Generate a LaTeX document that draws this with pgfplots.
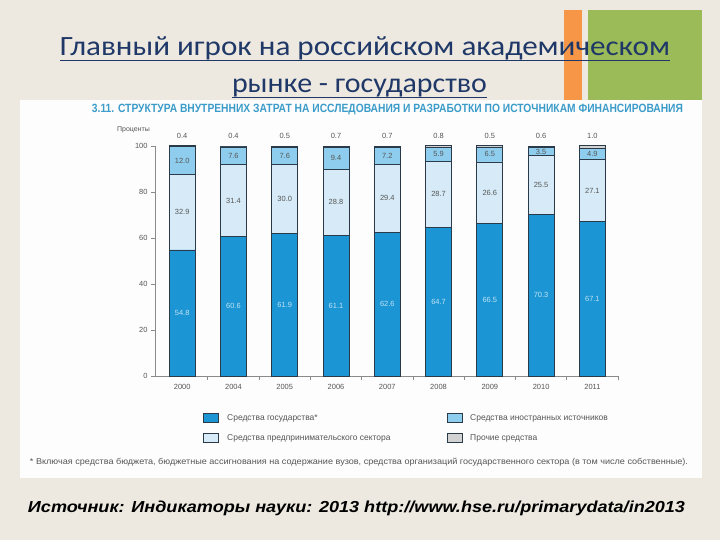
\documentclass[border=0pt]{standalone}
\usepackage{pgfplots}
\pgfplotsset{compat=1.18}
\usepackage{graphicx}
\usepackage{fontspec}
\setmainfont{Liberation Sans}
\newfontfamily\titlefont{Carlito}
\definecolor{bgc}{HTML}{EDE9E0}
\definecolor{panel}{HTML}{FDFDFD}
\definecolor{titleblue}{HTML}{1F3868}
\definecolor{orng}{HTML}{F79646}
\definecolor{grn}{HTML}{9BBB59}
\definecolor{hdr}{HTML}{3C9CC9}
\definecolor{cstate}{HTML}{1B95D3}
\definecolor{cbus}{HTML}{D6EBF7}
\definecolor{cfor}{HTML}{8ECDED}
\definecolor{coth}{HTML}{D2D2D2}
\definecolor{outl}{HTML}{2A3A48}
\definecolor{axgray}{HTML}{8A8A8A}
\definecolor{txtgray}{HTML}{555555}
\definecolor{lbllight}{HTML}{C4E4F5}
\begin{document}
\begin{tikzpicture}
\begin{scope}[x=1bp,y=-1bp]
\fill[bgc] (0,0) rectangle (720,540);
\fill[orng] (564,10) rectangle (582,100);
\fill[grn] (588,10) rectangle (702,100);
\fill[panel] (20,100) rectangle (702,478);
\node[anchor=base,text=titleblue,inner sep=0] at (365,56) {\resizebox{610bp}{\height}{\titlefont\fontsize{28}{30}\selectfont Главный игрок на российском академическом}};
\node[anchor=base,text=titleblue,inner sep=0] at (359.5,93) {\resizebox{255bp}{\height}{\titlefont\fontsize{28}{30}\selectfont рынке - государство}};
\draw[titleblue,line width=1.5bp] (60,60.5) -- (670,60.5);
\draw[titleblue,line width=1.5bp] (232,97.5) -- (487,97.5);
\node[text=hdr,inner sep=0] at (387.5,110) {\resizebox{591bp}{\height}{\bfseries\fontsize{12}{14}\selectfont 3.11. СТРУКТУРА ВНУТРЕННИХ ЗАТРАТ НА ИССЛЕДОВАНИЯ И РАЗРАБОТКИ ПО ИСТОЧНИКАМ ФИНАНСИРОВАНИЯ}};
\node[anchor=east,text=txtgray,inner sep=0,font=\fontsize{7}{8}\selectfont] at (150,130) {Проценты};
% legend
\draw[outl,fill=cstate,line width=0.6bp] (203,413.5) rectangle (218,422.5);
\draw[outl,fill=cbus,line width=0.6bp] (203,433.5) rectangle (218,442.5);
\draw[outl,fill=cfor,line width=0.6bp] (447,413.5) rectangle (462,422.5);
\draw[outl,fill=coth,line width=0.6bp] (447,433.5) rectangle (462,442.5);
\node[anchor=west,text=txtgray,inner sep=0,font=\fontsize{8.5}{10}\selectfont] at (227,418) {Средства государства*};
\node[anchor=west,text=txtgray,inner sep=0,font=\fontsize{8.5}{10}\selectfont] at (227,438) {Средства предпринимательского сектора};
\node[anchor=west,text=txtgray,inner sep=0,font=\fontsize{8.5}{10}\selectfont] at (470,418) {Средства иностранных источников};
\node[anchor=west,text=txtgray,inner sep=0,font=\fontsize{8.5}{10}\selectfont] at (470,438) {Прочие средства};
\node[text=txtgray,inner sep=0] at (359,462) {\resizebox{658bp}{\height}{\fontsize{8.5}{10}\selectfont * Включая средства бюджета, бюджетные ассигнования на содержание вузов, средства организаций государственного сектора (в том числе собственные).}};
\node[text=black,inner sep=0] at (356.5,508) {\resizebox{657bp}{\height}{\bfseries\itshape\fontsize{16}{18}\selectfont Источник: Индикаторы науки: 2013 http://www.hse.ru/primarydata/in2013}};
\end{scope}
\begin{axis}[
  at={(155bp,-376bp)}, anchor=south west,
  scale only axis, width=463bp, height=230bp,
  xmin=-0.53, xmax=8.5, ymin=0, ymax=100,
  ybar stacked, bar width=26bp,
  axis x line*=bottom, axis y line*=left,
  axis line style={draw=axgray,line width=0.8bp},
  xtick={0,...,8},
  xticklabels={2000,2004,2005,2006,2007,2008,2009,2010,2011},
  major x tick style={draw=none},
  minor xtick={0.5,1.5,...,8.5},
  minor x tick style={draw=axgray,line width=0.8bp},
  ytick={0,20,...,100},
  y tick style={draw=axgray,line width=0.8bp},
  tick align=outside, major tick length=4bp, minor tick length=4bp,
  /pgf/number format/assume math mode=true,
  tick label style={text=txtgray,font=\fontsize{7.5}{9}\selectfont},
  xticklabel style={yshift=-1bp},
  clip=false,
]
\addplot[fill=cstate,draw=outl,line width=0.7bp] coordinates {(0,54.8) (1,60.6) (2,61.9) (3,61.1) (4,62.6) (5,64.7) (6,66.5) (7,70.3) (8,67.1)};
\addplot[fill=cbus,draw=outl,line width=0.7bp] coordinates {(0,32.9) (1,31.4) (2,30.0) (3,28.8) (4,29.4) (5,28.7) (6,26.6) (7,25.5) (8,27.1)};
\addplot[fill=cfor,draw=outl,line width=0.7bp] coordinates {(0,12.0) (1,7.6) (2,7.6) (3,9.4) (4,7.2) (5,5.9) (6,6.5) (7,3.5) (8,4.9)};
\addplot[fill=coth,draw=outl,line width=0.7bp] coordinates {(0,0.4) (1,0.4) (2,0.5) (3,0.7) (4,0.7) (5,0.8) (6,0.5) (7,0.6) (8,1.0)};
\end{axis}
\begin{axis}[
  at={(155bp,-376bp)}, anchor=south west,
  scale only axis, width=463bp, height=230bp,
  xmin=-0.53, xmax=8.5, ymin=0, ymax=100,
  hide axis, clip=false,
  nodes near coords, point meta=explicit symbolic,
  every node near coord/.append style={anchor=center,inner sep=0,font=\fontsize{7.5}{9}\selectfont},
]
\addplot[draw=none,mark=none,every node near coord/.append style={text=lbllight}] table[meta=l] {
x y l
0 27.4 54.8
1 30.3 60.6
2 30.95 61.9
3 30.55 61.1
4 31.3 62.6
5 32.35 64.7
6 33.25 66.5
7 35.15 70.3
8 33.55 67.1
};
\addplot[draw=none,mark=none,every node near coord/.append style={text=txtgray}] table[meta=l] {
x y l
0 71.25 32.9
1 76.3 31.4
2 76.9 30.0
3 75.5 28.8
4 77.3 29.4
5 79.05 28.7
6 79.8 26.6
7 83.05 25.5
8 80.65 27.1
};
\addplot[draw=none,mark=none,every node near coord/.append style={text=txtgray}] table[meta=l] {
x y l
0 93.7 12.0
1 95.8 7.6
2 95.7 7.6
3 94.6 9.4
4 95.6 7.2
5 96.35 5.9
6 96.35 6.5
7 97.55 3.5
8 96.65 4.9
};
\addplot[draw=none,mark=none,every node near coord/.append style={text=txtgray}] table[meta=l] {
x y l
0 104.3 0.4
1 104.3 0.4
2 104.3 0.5
3 104.3 0.7
4 104.3 0.7
5 104.3 0.8
6 104.3 0.5
7 104.3 0.6
8 104.3 1.0
};
\end{axis}
\end{tikzpicture}
\end{document}
